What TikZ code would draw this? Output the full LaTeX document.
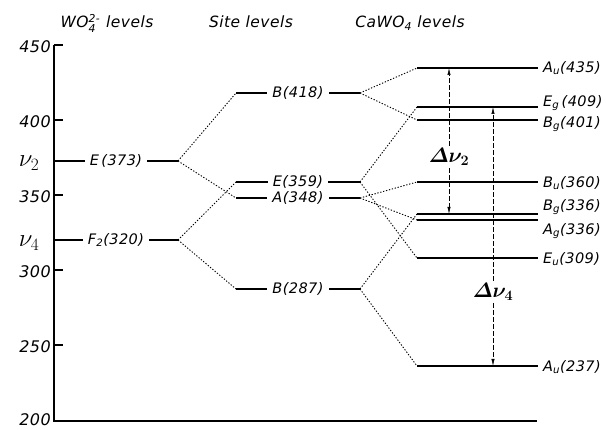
\documentclass[tikz,border=0pt]{standalone}
\usepackage{amsmath}
\usepackage{fontspec}
\setmainfont{DejaVu Sans}[LetterSpace=3]
\usetikzlibrary{arrows.meta}
\newcommand{\lsb}[1]{\textsubscript{#1}}
\tikzset{
  lvl/.style={line width=1.8pt},
  conn/.style={dash pattern=on 1.3pt off 1.7pt, line width=0.9pt},
  axisline/.style={line width=1.1pt},
  lab/.style={font=\fontsize{14.5}{16}\selectfont\itshape, fill=white, inner xsep=5pt, inner ysep=1pt},
  rlab/.style={font=\fontsize{14.5}{16}\selectfont\itshape, anchor=west, inner sep=0pt},
  ticklab/.style={font=\fontsize{16}{18}\selectfont\itshape, anchor=east, inner sep=0pt},
  head/.style={font=\fontsize{15.5}{18}\selectfont\itshape, anchor=base, inner sep=0pt},
  nulab/.style={font=\fontsize{24}{26}\selectfont, inner sep=0pt},
  dlab/.style={font=\fontsize{22}{24}\selectfont, fill=white, inner sep=2pt},
  darr/.style={dash pattern=on 5pt off 2pt, line width=0.5pt, -{Latex[length=7pt,width=3.2pt]}}
}
\begin{document}
\begin{tikzpicture}[x=1pt,y=-1pt]
\useasboundingbox (0,0) rectangle (606,430);
% headers
\node[head] (h1) at (107,28) {WO$^{\text{2-}}_{\text{4}}$\hspace{6pt}levels};
\node[head] (h2) at (251,28) {Site levels};
\node[head] (h3) at (410,28) {CaWO\textsubscript{4} levels};
% axes
\draw[axisline] (54,45) -- (54,421) -- (537,421);
\foreach \v/\yy in {450/45,400/120,350/195,300/270,250/345}{
  \draw[axisline] (54,\yy) -- (63,\yy);
  \node[ticklab] at (51,\yy+2) {\v};
}
\node[ticklab] (t200) at (51,420) {200};
\node[nulab] (nu2) at (29,163) {$\nu_2$};
\node[nulab] (nu4) at (29,243) {$\nu_4$};
% coordinates of level ends
\coordinate (E373L) at (54,161);  \coordinate (E373R) at (178,161);
\coordinate (F320L) at (54,240);  \coordinate (F320R) at (178,240);
\coordinate (B418L) at (236,93);  \coordinate (B418R) at (360,93);
\coordinate (E359L) at (236,182); \coordinate (E359R) at (360,182);
\coordinate (A348L) at (236,198); \coordinate (A348R) at (360,198);
\coordinate (B287L) at (236,289); \coordinate (B287R) at (360,289);
\coordinate (Au435L) at (417,68);  \coordinate (Au435R) at (538,68);
\coordinate (Eg409L) at (417,107); \coordinate (Eg409R) at (538,107);
\coordinate (Bg401L) at (417,120); \coordinate (Bg401R) at (538,120);
\coordinate (Bu360L) at (417,182); \coordinate (Bu360R) at (538,182);
\coordinate (Bg336L) at (417,214); \coordinate (Bg336R) at (538,214);
\coordinate (Ag336L) at (417,220); \coordinate (Ag336R) at (538,220);
\coordinate (Eu309L) at (417,258); \coordinate (Eu309R) at (538,258);
\coordinate (Au237L) at (417,366); \coordinate (Au237R) at (538,366);
% left levels
\draw[lvl] (E373L) -- node[lab] (lE373) {E\,(373)} (E373R);
\draw[lvl] (F320L) -- node[lab] (lF320) {F\lsb{2}(320)} (F320R);
% site levels
\draw[lvl] (B418L) -- node[lab] (lB418) {B(418)} (B418R);
\draw[lvl] (E359L) -- node[lab] (lE359) {E(359)} (E359R);
\draw[lvl] (A348L) -- node[lab] (lA348) {A(348)} (A348R);
\draw[lvl] (B287L) -- node[lab] (lB287) {B(287)} (B287R);
% crystal levels
\draw[lvl] (Au435L) -- (Au435R);
\draw[lvl] (Eg409L) -- (Eg409R);
\draw[lvl] (Bg401L) -- (Bg401R);
\draw[lvl] (Bu360L) -- (Bu360R);
\draw[lvl] (Bg336L) -- (Bg336R);
\draw[lvl] (Ag336L) -- (Ag336R);
\draw[lvl] (Eu309L) -- (Eu309R);
\draw[lvl] (Au237L) -- (Au237R);
\node[rlab] (lAu435) at (543,68) {A\lsb{u}(435)};
\node[rlab] (lEg409) at (543,103) {E\lsb{g}\,(409)};
\node[rlab] (lBg401) at (543,124) {B\lsb{g}(401)};
\node[rlab] (lBu360) at (543,183) {B\lsb{u}(360)};
\node[rlab] (lBg336) at (543,207) {B\lsb{g}(336)};
\node[rlab] (lAg336) at (543,231) {A\lsb{g}(336)};
\node[rlab] (lEu309) at (543,259) {E\lsb{u}(309)};
\node[rlab] (lAu237) at (543,367) {A\lsb{u}(237)};
% correlation connectors
\draw[conn] (E373R) -- (B418L);
\draw[conn] (E373R) -- (A348L);
\draw[conn] (F320R) -- (E359L);
\draw[conn] (F320R) -- (B287L);
\draw[conn] (B418R) -- (Au435L);
\draw[conn] (B418R) -- (Bg401L);
\draw[conn] (E359R) -- (Eg409L);
\draw[conn] (E359R) -- (Eu309L);
\draw[conn] (A348R) -- (Bu360L);
\draw[conn] (A348R) -- (Ag336L);
\draw[conn] (B287R) -- (Bg336L);
\draw[conn] (B287R) -- (Au237L);
% splitting arrows
\coordinate (d2t) at (449,68);  \coordinate (d2b) at (449,214);
\coordinate (d4t) at (493,107); \coordinate (d4b) at (493,366);
\node[dlab] (D2) at (449,157) {$\boldsymbol{\varDelta\nu_2}$};
\node[dlab] (D4) at (493,292) {$\boldsymbol{\varDelta\nu_4}$};
\draw[darr] (D2) -- (d2t);
\draw[darr] (D2) -- (d2b);
\draw[darr] (D4) -- (d4t);
\draw[darr] (D4) -- (d4b);
\end{tikzpicture}
\end{document}
